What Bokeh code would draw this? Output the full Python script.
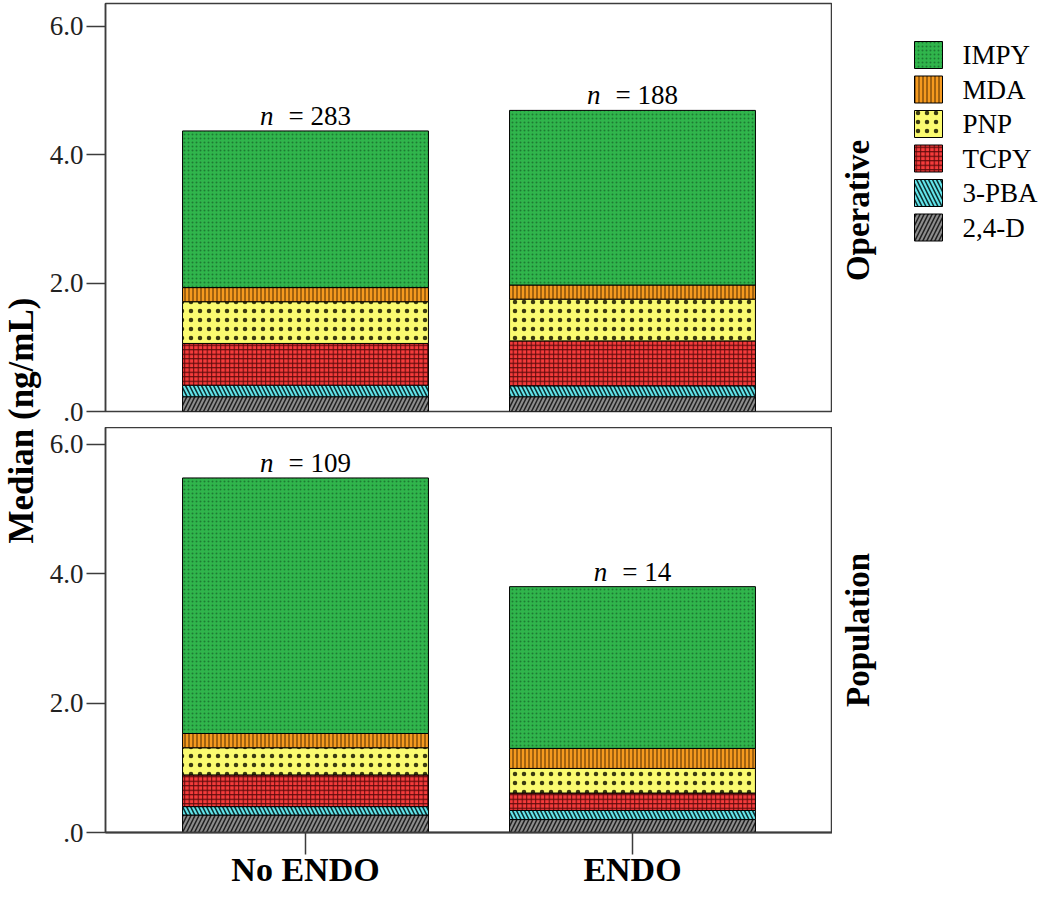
import numpy as np
from bokeh.plotting import figure
from bokeh.models import (ColumnDataSource, Range1d, FixedTicker, Label)
from bokeh.layouts import row, column
from bokeh.embed import file_html
from bokeh.resources import INLINE
from bokeh.core.properties import value

# ---------------- data ----------------
categories = ["No ENDO", "ENDO"]
panels = ["Operative", "Population"]
# stacking order, bottom to top
analytes = ["2,4-D", "3-PBA", "TCPY", "PNP", "MDA", "IMPY"]
keys = ["d24", "pba", "tcpy", "pnp", "mda", "impy"]

op_24D = [0.23, 0.23]
op_3PBA = [0.18, 0.17]
op_TCPY = [0.65, 0.70]
op_PNP = [0.65, 0.65]
op_MDA = [0.22, 0.22]
op_IMPY = [2.44, 2.72]
op_n = [283, 188]

pop_24D = [0.27, 0.20]
pop_3PBA = [0.13, 0.14]
pop_TCPY = [0.49, 0.27]
pop_PNP = [0.42, 0.38]
pop_MDA = [0.22, 0.31]
pop_IMPY = [3.95, 2.50]
pop_n = [109, 14]

y_ticks = [0, 2, 4, 6]
y_tick_labels = [".0", "2.0", "4.0", "6.0"]
y_title = "Median (ng/mL)"

# ---------------- styles ----------------
SERIF = "Liberation Serif"
fills = ["#8c8c8c", "#62e4ea", "#f43b3b", "#fbfb70", "#f59a1f", "#30b54c"]
hatch_patterns = ["right_diagonal_line", "left_diagonal_line", "cross", "dot",
                  "vertical_line", "dot"]
hatch_colors = ["#1e1e1e", "#0c2c2c", "#5a0a0a", "#3a3a10", "#4d2a00", "#1d7a32"]
hatch_scales = [8, 8, 4.5, 9, 4, 4]
hatch_weights = [1.5, 1.5, 1, 1, 1, 1]
FRAME_COL = "#3c3c3c"

FRAME_W = 727
SIDE_W = 210
YT_W = 42
BAR_SPACING_PX = 327
x_pad = (FRAME_W - BAR_SPACING_PX) / 2 / BAR_SPACING_PX
BAR_W = 0.752
style = dict(fill_color=fills, hatch_pattern=hatch_patterns,
             hatch_color=hatch_colors, hatch_scale=hatch_scales,
             hatch_weight=hatch_weights, line_color="black", line_width=1)


def blank_fig(w, h, mb_bottom=0):
    f = figure(frame_width=w, frame_height=h, x_range=Range1d(0, w),
               y_range=Range1d(h, 0), output_backend="svg",
               toolbar_location=None, x_axis_location=None,
               y_axis_location=None, min_border=0, min_border_bottom=mb_bottom,
               outline_line_color=None)
    f.xgrid.visible = False
    f.ygrid.visible = False
    return f


def make_panel(vals, ns, bottom, frame_h, y_end, mb_top, mb_bottom):
    src = ColumnDataSource(dict(x=list(range(len(categories))),
                                **{k: v for k, v in zip(keys, vals)}))
    p = figure(frame_width=FRAME_W, frame_height=frame_h,
               x_range=Range1d(-x_pad, len(categories) - 1 + x_pad),
               y_range=Range1d(0, y_end),
               output_backend="svg", toolbar_location=None,
               x_axis_location="below" if bottom else None,
               min_border_left=105 - YT_W, min_border_right=0,
               min_border_top=mb_top, min_border_bottom=mb_bottom)
    p.outline_line_color = FRAME_COL
    p.outline_line_width = 1.5
    p.xgrid.visible = False
    p.ygrid.visible = False

    rs = p.vbar_stack(keys, x="x", width=BAR_W, source=src, **style)

    ya = p.yaxis[0]
    ya.ticker = FixedTicker(ticks=y_ticks)
    ya.major_label_overrides = {t: l for t, l in zip(y_ticks, y_tick_labels)}
    ya.minor_tick_line_color = None
    ya.major_tick_in = 0
    ya.major_tick_out = 19
    ya.major_tick_line_color = FRAME_COL
    ya.major_tick_line_width = 1.5
    ya.axis_line_color = FRAME_COL
    ya.axis_line_width = 1.5
    ya.major_label_standoff = 3
    ya.major_label_text_font = SERIF
    ya.major_label_text_font_size = "27px"
    ya.major_label_text_color = "#222222"

    if bottom:
        xa = p.xaxis[0]
        xa.ticker = FixedTicker(ticks=list(range(len(categories))))
        xa.major_label_overrides = {i: c for i, c in enumerate(categories)}
        xa.minor_tick_line_color = None
        xa.major_tick_in = 0
        xa.major_tick_out = 22
        xa.major_tick_line_color = FRAME_COL
        xa.major_tick_line_width = 1.5
        xa.axis_line_color = FRAME_COL
        xa.axis_line_width = 2
        xa.major_label_standoff = -4
        xa.major_label_text_font = SERIF
        xa.major_label_text_font_style = "bold"
        xa.major_label_text_font_size = "34px"
        xa.major_label_text_color = "black"

    # n labels: italic "n" + "= NNN", centred together over each bar
    fs = 27
    totals = np.sum(np.array(vals), axis=0)
    rest = ["= %d" % n for n in ns]
    rest_w = [(0.564 + 0.25 + 0.5 * len(str(n))) * fs for n in ns]
    total_w = [0.5 * fs + 0.55 * fs + w for w in rest_w]
    n_off = [-t / 2 + 0.5 * fs for t in total_w]
    r_off = [-t / 2 + 1.05 * fs for t in total_w]
    lsrc = ColumnDataSource(dict(x=list(range(len(categories))), y=totals,
                                 n=["n"] * len(ns), rest=rest,
                                 n_off=n_off, r_off=r_off))
    common = dict(x="x", y="y", source=lsrc, y_offset=-15,
                  text_baseline="middle", text_font=value(SERIF),
                  text_font_size="%dpx" % fs, text_color="black")
    p.text(text="n", x_offset="n_off", text_align="right",
           text_font_style="italic", **common)
    p.text(text="rest", x_offset="r_off", text_align="left", **common)
    return p, rs


TOP_MB_TOP, TOP_FH, TOP_MB_BOT = 3, 408, 16
BOT_FH = 405
top, rs_top = make_panel([op_24D, op_3PBA, op_TCPY, op_PNP, op_MDA, op_IMPY],
                         op_n, False, TOP_FH, 6.355, TOP_MB_TOP, TOP_MB_BOT)
bot, _ = make_panel([pop_24D, pop_3PBA, pop_TCPY, pop_PNP, pop_MDA, pop_IMPY],
                    pop_n, True, BOT_FH, 6.26, 0, 10)
TOP_H = TOP_MB_TOP + TOP_FH + TOP_MB_BOT

# right-hand side strips: panel labels + legend (pixel coordinates)
label_style = dict(angle=90, angle_units="deg", text_align="center",
                   text_baseline="middle", text_font=SERIF,
                   text_font_style="bold", text_font_size="33px",
                   text_color="black")
top_side = blank_fig(SIDE_W, TOP_H)
top_side.add_layout(Label(x=25, y=TOP_MB_TOP + TOP_FH / 2, text=panels[0],
                          **label_style))
bot_side = blank_fig(SIDE_W, BOT_FH, mb_bottom=60)
bot_side.add_layout(Label(x=25, y=BOT_FH / 2, text=panels[1], **label_style))

# legend: swatches + labels, IMPY on top
LEG_X, LEG_TOP, PITCH, SW, SH = 82, 38, 34.5, 28, 27
order = list(range(len(analytes)))[::-1]
leg = ColumnDataSource(dict(
    x=[LEG_X + SW / 2] * len(order),
    y=[LEG_TOP + k * PITCH + SH / 2 for k in range(len(order))],
    tx=[LEG_X + SW + 20] * len(order),
    label=[analytes[i] for i in order],
    fill=[fills[i] for i in order],
    hp=[hatch_patterns[i] for i in order],
    hc=[hatch_colors[i] for i in order],
    hs=[hatch_scales[i] for i in order],
    hw=[hatch_weights[i] for i in order],
))
top_side.rect(x="x", y="y", width=SW, height=SH, source=leg, fill_color="fill",
              hatch_pattern="hp", hatch_color="hc", hatch_scale="hs",
              hatch_weight="hw", line_color="black", line_width=1)
top_side.text(x="tx", y="y", text="label", source=leg, text_baseline="middle",
              text_align="left", text_font=value(SERIF), text_font_size="27px",
              text_color="black")

# y-axis title in a narrow strip spanning both panels
TOTAL_H = TOP_H + BOT_FH + 60
yfig = blank_fig(YT_W, TOTAL_H)
yfig.add_layout(Label(x=21, y=420, text=y_title, angle=90, angle_units="deg",
                      text_align="center", text_baseline="middle",
                      text_font=SERIF, text_font_style="bold",
                      text_font_size="35px", text_color="black"))

layout = row(yfig, column(row(top, top_side), row(bot, bot_side)))
open("out.html", "w").write(file_html(layout, INLINE))
